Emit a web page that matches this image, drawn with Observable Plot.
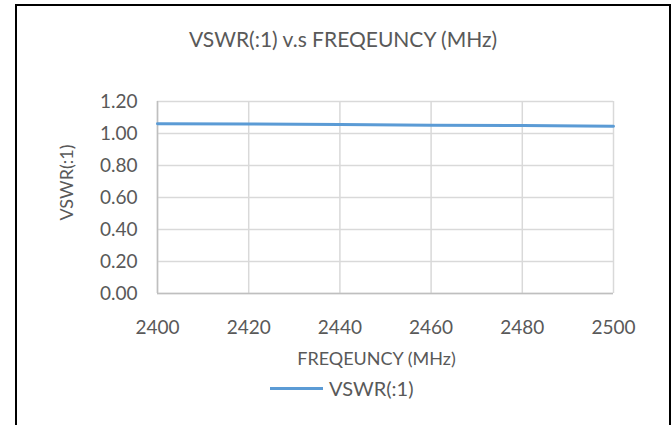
<!DOCTYPE html>
<html>
<head>
<meta charset="utf-8">
<script src="https://cdn.jsdelivr.net/npm/d3@7"></script>
<script src="https://cdn.jsdelivr.net/npm/@observablehq/plot@0.6"></script>
<style>
  html, body { margin: 0; padding: 0; background: #fff; width: 671px; height: 425px; overflow: hidden; font-family: Lato, sans-serif; color: #595959; }
  #border { position: absolute; left: 15px; top: 4px; width: 656px; height: 480px; border: 2px solid #000; box-sizing: border-box; }
  #title { position: absolute; left: 15px; width: 656px; top: 0; height: 70px; text-align: center; font-size: 21px; line-height: 1; }
  #title span { position: absolute; left: 0; right: 0; top: 28px; }
  #chart { position: absolute; left: 0; top: 70px; }
  #legend { position: absolute; top: 376px; left: 270px; height: 24px; display: flex; align-items: center; font-size: 20px; }
  #legend .sw { width: 53px; height: 3px; background: #5b9bd5; margin-right: 6px; }
</style>
</head>
<body>
<div id="border"></div>
<div id="title"><span>VSWR(:1) v.s FREQEUNCY (MHz)</span></div>
<div id="chart"></div>
<div id="legend"><div class="sw"></div><div id="legendText"></div></div>
<script>
const titleText = "VSWR(:1) v.s FREQEUNCY (MHz)";
const seriesName = "VSWR(:1)";
const xTitle = "FREQEUNCY (MHz)";
const yTitle = "VSWR(:1)";
const frequency = [2400, 2420, 2440, 2460, 2480, 2500];
const vswr = [1.061, 1.059, 1.056, 1.052, 1.050, 1.046];
const xTicks = [2400, 2420, 2440, 2460, 2480, 2500];
const yTicks = [0, 0.2, 0.4, 0.6, 0.8, 1.0, 1.2];
const xDomain = [2400, 2500];
const yDomain = [0, 1.2];

document.querySelector("#title span").textContent = titleText;
document.getElementById("legendText").textContent = seriesName;

const data = frequency.map((f, i) => ({f, v: vswr[i]}));

const chart = Plot.plot({
  width: 671,
  height: 300,
  marginTop: 31,
  marginBottom: 77,
  marginLeft: 157,
  marginRight: 58,
  style: {fontFamily: "Lato, sans-serif", color: "#595959", background: "transparent", overflow: "visible"},
  x: {domain: xDomain},
  y: {domain: yDomain},
  marks: [
    Plot.gridY(yTicks, {stroke: "#d9d9d9", strokeOpacity: 1, strokeWidth: 1.5}),
    Plot.gridX(xTicks, {stroke: "#d9d9d9", strokeOpacity: 1, strokeWidth: 1.5}),
    Plot.ruleY([yDomain[0]], {stroke: "#bfbfbf", strokeWidth: 1.5}),
    Plot.ruleX([xDomain[0]], {stroke: "#bfbfbf", strokeWidth: 1.5}),
    Plot.line(data, {x: "f", y: "v", stroke: "#5b9bd5", strokeWidth: 3}),
    Plot.axisY(yTicks, {tickFormat: d3.format(".2f"), tickSize: 0, tickPadding: 20, fontSize: 19, label: null}),
    Plot.axisX(xTicks, {tickFormat: d => String(d), tickSize: 0, tickPadding: 27, fontSize: 19, label: null}),
    Plot.text([xTitle], {frameAnchor: "bottom", dy: 66, dx: -9, lineAnchor: "middle", fontSize: 18, fill: "#595959"}),
    Plot.text([yTitle], {frameAnchor: "left", rotate: -90, dx: -90, dy: -15, textAnchor: "middle", lineAnchor: "middle", fontSize: 18, fill: "#595959"})
  ]
});
document.getElementById("chart").appendChild(chart);
</script>
</body>
</html>
